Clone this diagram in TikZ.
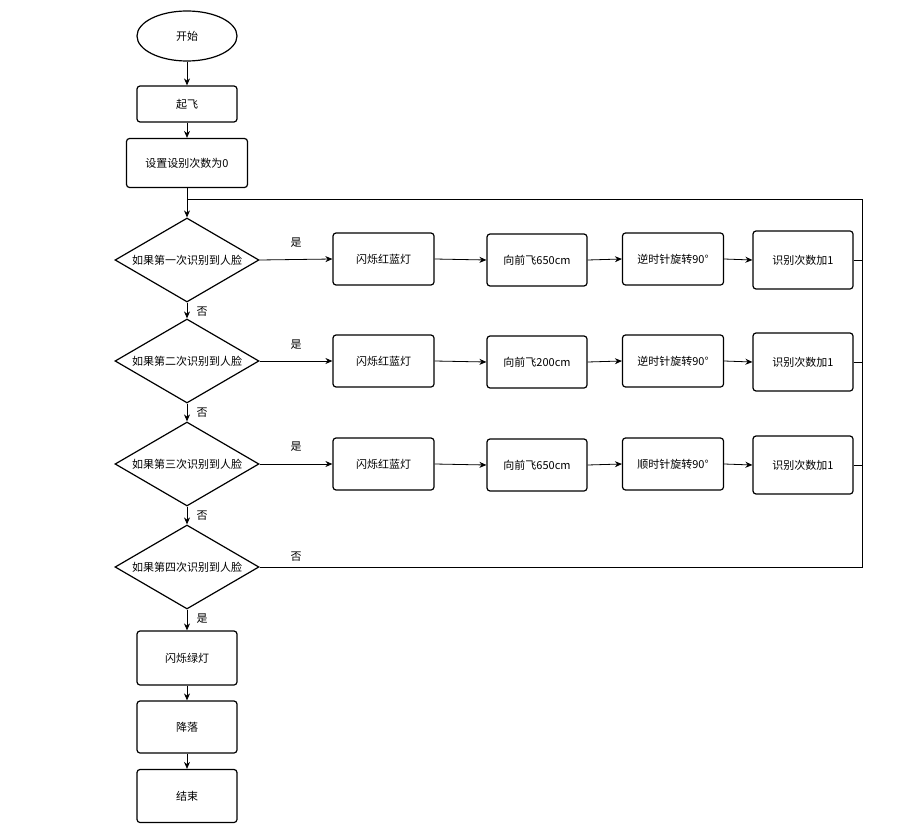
\documentclass[tikz,border=0pt]{standalone}
\usepackage{fontspec}
\setmainfont{Noto Sans CJK SC}
\usetikzlibrary{shapes.geometric,arrows.meta}
\begin{document}
\begin{tikzpicture}[x=1pt,y=-1pt,
  every node/.style={font=\fontsize{11}{13}\selectfont},
  box/.style={draw,line width=1.2pt,rounded corners=3pt,minimum width=100pt,minimum height=52pt,inner sep=0pt},
  dia/.style={draw,line width=1.2pt,diamond,aspect=1.714,minimum width=144pt,minimum height=84pt,inner sep=0pt},
  arr/.style={-{Stealth[length=7pt,width=6pt]},line width=0.8pt},
  ln/.style={line width=0.8pt},
  lab/.style={font=\fontsize{11}{13}\selectfont}]
\useasboundingbox (0,0) rectangle (919,832);
\node[draw,line width=1.2pt,ellipse,minimum width=100pt,minimum height=50pt] (start) at (187,36) {开始};
\node[box,minimum height=36pt] (takeoff) at (187,104) {起飞};
\node[box,minimum width=121pt,minimum height=49pt] (set) at (187,163) {设置设别次数为0};
\node[dia,label={center:如果第一次识别到人脸}] (d1) at (187,260) {};
\node[dia,label={center:如果第二次识别到人脸}] (d2) at (187,361) {};
\node[dia,label={center:如果第三次识别到人脸}] (d3) at (187,464) {};
\node[dia,label={center:如果第四次识别到人脸}] (d4) at (187,567) {};
\node[box,minimum height=54pt] (green) at (187,658) {闪烁绿灯};
\node[box] (land) at (187,727) {降落};
\node[box,minimum height=53pt] (end) at (187,796) {结束};
\foreach \r/\y/\dist/\rot in {1/259/650/逆时针旋转90°,2/361/200/逆时针旋转90°,3/464/650/顺时针旋转90°}{
  \node[box,minimum width=101pt] (a\r) at (383.5,\y) {闪烁红蓝灯};
  \node[box] (b\r) at (537,\y+1) {向前飞\dist cm};
  \node[box,minimum width=101pt] (c\r) at (673,\y) {\rot};
  \node[box,minimum height=58pt] (e\r) at (803,\y+1) {识别次数加1};
  \draw[arr] (d\r.east) -- (a\r.west);
  \draw[arr] (a\r.east) -- (b\r.west);
  \draw[arr] (b\r.east) -- (c\r.west);
  \draw[arr] (c\r.east) -- (e\r.west);
  \draw[ln] (e\r.east) -- (862,\y+1);
}
\coordinate (top) at (187,199);
\coordinate (tr) at (862,199);
\coordinate (br) at (862,567);
\draw[arr] (start) -- (takeoff);
\draw[arr] (takeoff) -- (set);
\draw[ln] (set) -- (top);
\draw[arr] (top) -- (d1.north);
\draw[arr] (d1) -- (d2);
\draw[arr] (d2) -- (d3);
\draw[arr] (d3) -- (d4);
\draw[arr] (d4) -- (green);
\draw[arr] (green) -- (land);
\draw[arr] (land) -- (end);
\draw[ln] (d4.east) -- (br) -- (tr) -- (top);
\node[lab] at (296,243) {是};
\node[lab] at (296,345) {是};
\node[lab] at (296,447) {是};
\node[lab] at (296,557) {否};
\node[lab] at (202,312) {否};
\node[lab] at (202,413) {否};
\node[lab] at (202,516) {否};
\node[lab] at (202,619) {是};
\end{tikzpicture}
\end{document}
